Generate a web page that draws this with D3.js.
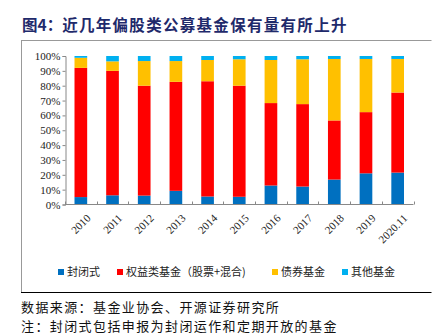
<!DOCTYPE html>
<html><head><meta charset="utf-8">
<script src="https://cdn.jsdelivr.net/npm/d3@7"></script>
<style>body{margin:0;background:#fff;}svg{display:block;}</style>
</head><body>
<svg id="c" width="439" height="334"></svg>
<script>
const categories = ["2010","2011","2012","2013","2014","2015","2016","2017","2018","2019","2020.11"];
const closedFund = [5, 6.2, 6, 9.2, 5.4, 5.2, 12.8, 12.1, 16.8, 21, 21.5];
const equityFund = [87, 83.8, 74, 73.4, 77.6, 74.8, 55.5, 55.5, 39.8, 41.2, 53.9];
const bondFund   = [6.8, 6.4, 16.6, 14, 14.3, 17.8, 29, 30.2, 41.4, 35.8, 22.6];
const otherFund  = [1.2, 3.6, 3.4, 3.4, 2.7, 2.2, 2.7, 2.2, 2, 2, 2];
const seriesNames = ["封闭式","权益类基金（股票+混合)","债券基金","其他基金"];
const colors = ["#0070C0","#FF0000","#FFC000","#00B0F0"];
const yTicks = [0,10,20,30,40,50,60,70,80,90,100];

const svg = d3.select("#c");
const serif = "'Liberation Serif','Times New Roman',serif";
const cjk = "'Noto Sans CJK SC','Noto Sans CJK JP',sans-serif";

// title
const title = svg.append("text").attr("x",22).attr("y",31).attr("font-family",cjk)
  .attr("font-weight","bold").attr("font-size",15.5).attr("fill","#1F2A6B");
title.append("tspan").text("图4：");
title.append("tspan").attr("letter-spacing",1.3).text("近几年偏股类公募基金保有量有所上升");

// frame
svg.append("line").attr("x1",21).attr("x2",431.5).attr("y1",40.5).attr("y2",40.5).attr("stroke","#999").attr("stroke-width",1);
svg.append("line").attr("x1",21.5).attr("x2",21.5).attr("y1",40).attr("y2",293).attr("stroke","#999").attr("stroke-width",1);
svg.append("line").attr("x1",21).attr("x2",431.5).attr("y1",292.5).attr("y2",292.5).attr("stroke","#000").attr("stroke-width",1);

const x = d3.scaleBand().domain(categories).range([65,413.5]).paddingInner(0.6).paddingOuter(0.3);
const y = d3.scaleLinear().domain([0,100]).range([204.5,56]);

const data = categories.map((c,i)=>({cat:c, s0:closedFund[i], s1:equityFund[i], s2:bondFund[i], s3:otherFund[i]}));
const stack = d3.stack().keys(["s0","s1","s2","s3"])(data);

svg.append("g").selectAll("g").data(stack).join("g").attr("fill",(d,i)=>colors[i])
  .selectAll("rect").data(d=>d).join("rect")
  .attr("x",d=>x(d.data.cat)).attr("width",x.bandwidth())
  .attr("y",d=>y(d[1])).attr("height",d=>y(d[0])-y(d[1]));

// y axis
const yAxis = svg.append("g").attr("transform","translate(65.5,0)")
  .call(d3.axisLeft(y).tickValues(yTicks).tickFormat(d=>d+"%").tickSize(3).tickPadding(2));
yAxis.select(".domain").attr("stroke","#888");
yAxis.selectAll(".tick line").attr("stroke","#888");
yAxis.selectAll("text").attr("font-family",serif).attr("font-size",11).attr("fill","#222");

// x axis
const xg = svg.append("g").attr("transform","translate(0,204.5)");
xg.append("line").attr("x1",65).attr("x2",413.5).attr("stroke","#888");
const bounds = d3.range(categories.length+1).map(i=>65+ (413.5-65)*i/categories.length);
xg.selectAll("line.tk").data(bounds).join("line").attr("class","tk")
  .attr("x1",d=>Math.round(d)+0.5).attr("x2",d=>Math.round(d)+0.5).attr("y1",0).attr("y2",-3).attr("stroke","#888");
xg.selectAll("text").data(categories).join("text")
  .attr("transform",d=>`translate(${x(d)+x.bandwidth()/2+5},${9}) rotate(-45)`)
  .attr("text-anchor","end").attr("dy","0.7em")
  .attr("font-family",serif).attr("font-size",11).attr("fill","#222").text(d=>d);

// legend
const legX = [58,117,272,342];
const lg = svg.append("g").selectAll("g").data(seriesNames).join("g")
  .attr("transform",(d,i)=>`translate(${legX[i]},275)`);
lg.append("rect").attr("x",0).attr("y",-6).attr("width",6).attr("height",6).attr("fill",(d,i)=>colors[i]);
lg.append("text").attr("x",9).attr("y",0).attr("dy","0.05em").attr("font-family",cjk).attr("font-size",11).attr("fill","#222").text(d=>d);

// footer
svg.append("text").attr("x",21).attr("y",312).attr("font-family",cjk).attr("font-size",13).attr("letter-spacing",1.4).attr("fill","#111")
  .text("数据来源：基金业协会、开源证券研究所");
svg.append("text").attr("x",21).attr("y",331).attr("font-family",cjk).attr("font-size",13).attr("letter-spacing",1.4).attr("fill","#111")
  .text("注：封闭式包括申报为封闭运作和定期开放的基金");
</script>
</body></html>
